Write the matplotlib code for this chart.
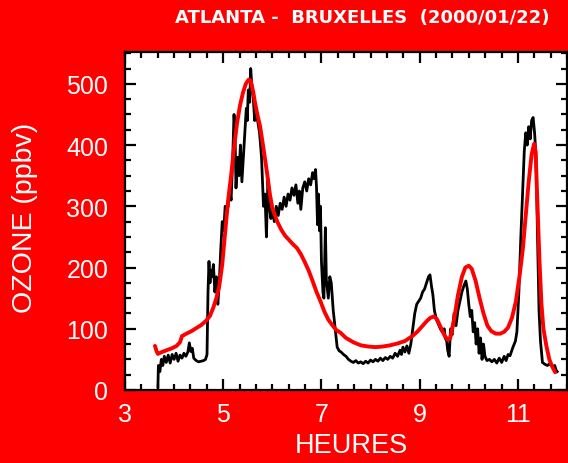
import matplotlib
matplotlib.use("Agg")
import matplotlib.pyplot as plt
from matplotlib.ticker import MultipleLocator

# Observed ozone (black, noisy) - hours / ppbv
obs_hours = [3.67, 3.68, 3.71, 3.74, 3.77, 3.80, 3.84, 3.88, 3.92, 3.96,
             4.00, 4.04, 4.08, 4.12, 4.16, 4.20, 4.24, 4.28, 4.31, 4.34,
             4.37, 4.40, 4.45, 4.50, 4.55, 4.60, 4.64, 4.67, 4.69, 4.71,
             4.73, 4.75, 4.77, 4.80, 4.83, 4.86, 4.89, 4.92, 4.95, 4.98,
             5.01, 5.04, 5.07, 5.10, 5.13, 5.16, 5.19, 5.22, 5.24, 5.26,
             5.29, 5.32, 5.35, 5.38, 5.41, 5.44, 5.47, 5.49, 5.51, 5.54,
             5.56, 5.58, 5.61, 5.64, 5.67, 5.70, 5.74, 5.78, 5.82, 5.85,
             5.88, 5.91, 5.94, 5.97, 6.00, 6.04, 6.08, 6.12, 6.16, 6.20,
             6.24, 6.28, 6.32, 6.36, 6.40, 6.44, 6.48, 6.52, 6.55, 6.58,
             6.62, 6.66, 6.70, 6.74, 6.78, 6.82, 6.85, 6.88, 6.90, 6.92,
             6.94, 6.96, 6.98, 7.00, 7.03, 7.05, 7.08, 7.10, 7.14, 7.17,
             7.20, 7.24, 7.28, 7.32, 7.36, 7.40, 7.45, 7.50, 7.55, 7.60,
             7.65, 7.70, 7.75, 7.80, 7.85, 7.90, 7.95, 8.00, 8.05, 8.10,
             8.15, 8.20, 8.25, 8.30, 8.35, 8.40, 8.45, 8.50, 8.55, 8.60,
             8.63, 8.66, 8.70, 8.74, 8.78, 8.82, 8.86, 8.90, 8.94, 8.98,
             9.02, 9.06, 9.10, 9.14, 9.18, 9.21, 9.24, 9.27, 9.30, 9.34,
             9.38, 9.42, 9.46, 9.50, 9.52, 9.55, 9.57, 9.60, 9.63, 9.66,
             9.70, 9.74, 9.78, 9.82, 9.86, 9.90, 9.94, 9.97, 10.00, 10.03,
             10.06, 10.09, 10.12, 10.15, 10.18, 10.21, 10.24, 10.27, 10.30, 10.33,
             10.37, 10.42, 10.47, 10.52, 10.57, 10.62, 10.67, 10.72, 10.76, 10.80,
             10.84, 10.90, 10.95, 10.98, 11.02, 11.06, 11.10, 11.13, 11.16, 11.19,
             11.22, 11.25, 11.28, 11.31, 11.34, 11.37, 11.40, 11.43, 11.46, 11.50,
             11.55, 11.60, 11.65, 11.70, 11.75, 11.78, 11.80]
obs_ozone = [5, 40, 30, 50, 40, 55, 45, 57, 44, 58,
             50, 60, 47, 57, 52, 60, 55, 62, 77, 63,
             68, 52, 48, 46, 47, 48, 50, 58, 160, 210,
             175, 195, 185, 205, 160, 185, 140, 175, 230, 275,
             260, 300, 290, 300, 330, 310, 370, 450, 420, 330,
             380, 350, 400, 340, 380, 420, 460, 440, 490, 470,
             525, 500, 480, 440, 455, 440, 420, 380, 300, 320,
             250, 345, 300, 280, 295, 275, 300, 285, 305, 295,
             315, 300, 320, 310, 330, 318, 335, 305, 325, 295,
             330, 340, 325, 345, 335, 355, 345, 360, 330, 270,
             320, 260, 300, 210, 160, 150, 265, 180, 150, 185,
             175, 130, 100, 70, 64, 62, 58, 55, 50, 47,
             45, 48, 44, 46, 43, 47, 44, 49, 46, 50,
             47, 52, 48, 53, 50, 55, 52, 60, 55, 65,
             58, 70, 62, 72, 60, 75, 100, 125, 140, 145,
             150, 160, 165, 175, 185, 188, 170, 155, 130, 115,
             108, 100, 95, 100, 85, 80, 65, 55, 100, 90,
             125, 105, 130, 145, 160, 170, 178, 165, 140, 120,
             130, 95, 110, 75, 100, 60, 85, 50, 75, 55,
             48, 50, 46, 50, 44, 52, 45, 55, 48, 58,
             56, 70, 80, 95, 160, 250, 330, 390, 420, 400,
             430, 410, 440, 445, 420, 380, 250, 130, 80, 45,
             42, 40, 43, 38, 40, 32, 30]

# Modelled ozone (red, smooth)
mod_hours = [3.61, 3.64, 3.67, 3.75, 3.85, 3.95, 4.05, 4.12, 4.16, 4.25,
             4.35, 4.45, 4.55, 4.65, 4.73, 4.80, 4.86, 4.92, 4.98, 5.04,
             5.10, 5.16, 5.22, 5.28, 5.34, 5.40, 5.46, 5.52, 5.56, 5.61,
             5.65, 5.70, 5.75, 5.80, 5.85, 5.90, 5.95, 6.00, 6.10, 6.18,
             6.26, 6.34, 6.42, 6.50, 6.58, 6.66, 6.74, 6.82, 6.90, 6.98,
             7.06, 7.14, 7.22, 7.30, 7.38, 7.50, 7.65, 7.80, 7.95, 8.10,
             8.25, 8.40, 8.55, 8.70, 8.85, 8.95, 9.05, 9.15, 9.22, 9.29,
             9.35, 9.42, 9.50, 9.57, 9.62, 9.70, 9.78, 9.86, 9.93, 10.00,
             10.06, 10.14, 10.22, 10.30, 10.38, 10.46, 10.55, 10.64, 10.72, 10.80,
             10.88, 10.96, 11.04, 11.10, 11.16, 11.22, 11.28, 11.33, 11.36, 11.40,
             11.44, 11.48, 11.52, 11.58, 11.64, 11.70, 11.76]
mod_ozone = [72, 64, 59, 62, 65, 68, 72, 78, 88, 92,
             96, 101, 106, 113, 121, 135, 150, 170, 205, 258,
             310, 350, 395, 435, 464, 485, 500, 507, 505, 487,
             468, 448, 431, 405, 378, 350, 320, 297, 275, 262,
             252, 245, 238, 232, 222, 209, 195, 178, 160, 145,
             128, 115, 106, 98, 94, 85, 78, 73, 71, 70,
             71, 73, 76, 80, 88, 95, 104, 113, 118, 120,
             116, 104, 90, 82, 84, 115, 155, 185, 200, 203,
             198, 178, 150, 125, 105, 96, 92, 92, 95, 102,
             118, 145, 190, 230, 285, 340, 385, 402, 390, 300,
             210, 140, 100, 72, 50, 38, 29]

x_ticks = [3, 5, 7, 9, 11]
y_ticks = [0, 100, 200, 300, 400, 500]

bg = "#ff0000"
plt.rcParams["font.family"] = ["Liberation Sans", "DejaVu Sans"]

fig = plt.figure(figsize=(5.68, 4.64), dpi=100, facecolor=bg)
ax = fig.add_axes([125 / 568, 73 / 464, 442 / 568, 338 / 464])
ax.set_facecolor("white")

ax.plot(obs_hours, obs_ozone, color="black", lw=2.0, zorder=2)
ax.plot(mod_hours, mod_ozone, color="#ff0000", lw=2.8, zorder=3,
        solid_capstyle="round")

ax.set_xlim(3, 12)
ax.set_ylim(0, 552)
ax.set_xticks(x_ticks)
ax.set_yticks(y_ticks)
ax.xaxis.set_minor_locator(MultipleLocator(1 / 3))
ax.yaxis.set_minor_locator(MultipleLocator(25))

for s in ax.spines.values():
    s.set_linewidth(1.6)
    s.set_color("black")

ax.tick_params(which="both", direction="in", top=True, right=True,
               colors="black", labelcolor="white", width=1.6)
ax.tick_params(which="major", length=8)
ax.tick_params(which="minor", length=4)
ax.tick_params(axis="x", which="major", labelsize=18, pad=9)
ax.tick_params(axis="y", which="major", labelsize=18, pad=12)

fig.text(362 / 568, 1 - 18 / 464, "ATLANTA -  BRUXELLES  (2000/01/22)",
         color="white", fontsize=13, fontweight="bold", family="DejaVu Sans",
         ha="center", va="center")
fig.text(25 / 568, 1 - 218 / 464, "OZONE (ppbv)", color="white",
         fontsize=20.5, rotation=90, ha="center", va="center")
fig.text(351 / 568, 1 - 446 / 464, "HEURES", color="white",
         fontsize=19.5, ha="center", va="center")

fig.savefig("out.png", dpi=100, facecolor=bg)
